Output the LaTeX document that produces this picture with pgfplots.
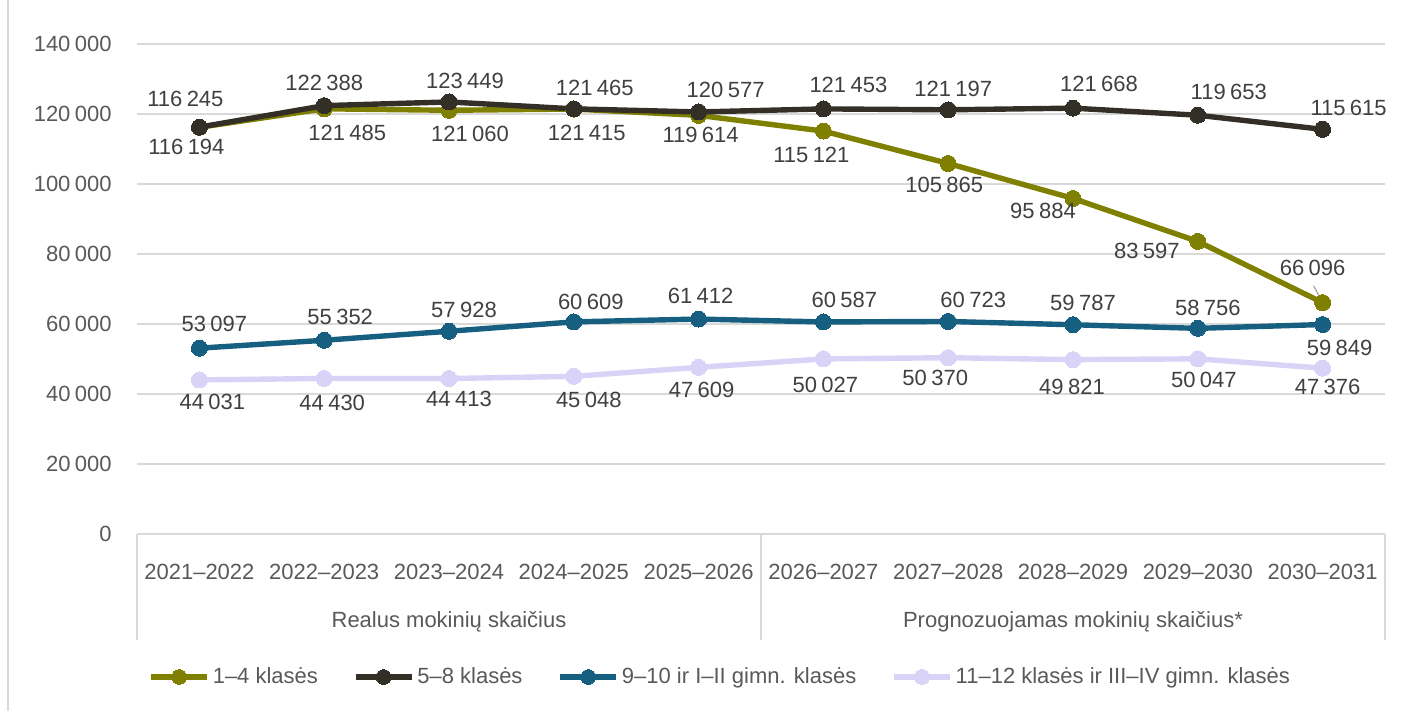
\documentclass[border=0pt]{standalone}
\usepackage{pgfplots}
\pgfplotsset{compat=1.18}
\usepackage{pgfplotstable}
\usepackage{fontspec}
\setmainfont{Liberation Sans}
\definecolor{olivec}{HTML}{7F7F00}
\definecolor{darkc}{HTML}{332F26}
\definecolor{bluec}{HTML}{175F80}
\definecolor{lavc}{HTML}{D9D3F8}
\definecolor{gridc}{HTML}{D9D9D9}
\definecolor{tickc}{HTML}{595959}
\definecolor{labc}{HTML}{404040}
\newcommand\lf{\fontsize{11bp}{13bp}\selectfont}
\newcommand\ts{\hspace{0.2em}}

% x = category index, y = value, dx/dy = label offset in px (dy positive = down)
\pgfplotstableread{
x y dx dy
0 116194 -13 20
1 121485 23 24
2 121060 21 24
3 121415 13 24
4 119614 2 20
5 115121 -12 24
6 105865 -4 21
7 95884 -30 13
8 83597 -51 10
9 66096 -10 -35
}\olive
\pgfplotstableread{
x y dx dy
0 116245 -14 -28
1 122388 0 -23
2 123449 16 -21
3 121465 21 -21
4 120577 27 -22
5 121453 25 -24
6 121197 5 -21
7 121668 26 -24
8 119653 31 -23
9 115615 26 -21
}\dark
\pgfplotstableread{
x y dx dy
0 53097 15 -24
1 55352 16 -23
2 57928 15 -21
3 60609 17 -20
4 61412 2 -23
5 60587 21 -22
6 60723 25 -22
7 59787 10 -22
8 58756 10 -20
9 59849 17 23
}\blue
\pgfplotstableread{
x y dx dy
0 44031 13 22
1 44430 8 24
2 44413 10 20
3 45048 15 24
4 47609 3 23
5 50027 2 26
6 50370 -13 20
7 49821 -1 27
8 50047 6 21
9 47376 5 19
}\lav

\pgfplotsset{
  lab/.style={
    draw=none, mark=none, forget plot,
    nodes near coords={\pgfmathprintnumber[fixed,precision=0,1000 sep={\ts},assume math mode=true]{\pgfplotspointmeta}},
    point meta=y,
    visualization depends on={\thisrow{dx}\as\dx},
    visualization depends on={\thisrow{dy}\as\dy},
    every node near coord/.append style={anchor=center, inner sep=0pt,
      xshift={(\dx)*0.5bp}, yshift={-(\dy)*0.5bp}, text=labc, font=\lf},
  },
  ser/.style={#1, line width=2.7bp, mark=*, mark size=4bp,
    mark options={solid, fill=#1, draw=#1, line width=0pt}},
}

\begin{document}
\begin{tikzpicture}
\begin{axis}[
  at={(0,0)}, anchor=south west,
  width=624bp, height=245bp, scale only axis,
  xmin=-0.5, xmax=9.5, ymin=0, ymax=140000,
  clip=false,
  scaled y ticks=false,
  axis line style={draw=none},
  tick style={draw=none},
  ymajorgrids, grid style={color=gridc, line width=1bp},
  ytick={0,20000,40000,60000,80000,100000,120000,140000},
  yticklabels={0,20\ts000,40\ts000,60\ts000,80\ts000,100\ts000,120\ts000,140\ts000},
  yticklabel style={font=\lf, text=tickc, anchor=east, inner sep=0pt, xshift=-12.5bp},
  xtick={0,...,9},
  xticklabels={2021–2022,2022–2023,2023–2024,2024–2025,2025–2026,2026–2027,2027–2028,2028–2029,2029–2030,2030–2031},
  xticklabel style={font=\lf, text=tickc, anchor=center, inner sep=0pt, yshift=-19bp},
  legend columns=-1,
  legend style={at={(axis description cs:0.0088,-0.2918)}, anchor=west,
    draw=none, fill=none, inner sep=0pt, font=\lf, text=tickc,
    nodes={inner sep=1.5bp},
    /tikz/every even column/.append style={column sep=16bp}},
  legend image code/.code={\draw[#1, mark size=3.7bp, mark repeat=2, mark phase=2] plot coordinates {(0bp,0bp) (14bp,0bp) (28bp,0bp)};},
]
\addplot[ser=olivec] table[x=x,y=y]{\olive};
\addlegendentry{1–4 klasės}
\addplot[ser=darkc] table[x=x,y=y]{\dark};
\addlegendentry{5–8 klasės}
\addplot[ser=bluec] table[x=x,y=y]{\blue};
\addlegendentry{9–10 ir I–II gimn. klasės}
\addplot[ser=lavc] table[x=x,y=y]{\lav};
\addlegendentry{11–12 klasės ir III–IV gimn. klasės}

\addplot[lab] table[x=x,y=y]{\olive};
\addplot[lab] table[x=x,y=y]{\dark};
\addplot[lab] table[x=x,y=y]{\blue};
\addplot[lab] table[x=x,y=y]{\lav};

\draw[color=gray!70, line width=0.6bp] ([xshift=-4.5bp,yshift=8.5bp]axis cs:9,66096) -- ([xshift=-0.8bp,yshift=1.5bp]axis cs:9,66096);

\draw[gridc, line width=1bp] (axis cs:-0.5,0) -- ++(0bp,-53bp);
\draw[gridc, line width=1bp] (axis cs:4.5,0) -- ++(0bp,-53bp);
\draw[gridc, line width=1bp] (axis cs:9.5,0) -- ++(0bp,-53bp);
\node[font=\lf, text=tickc, inner sep=0pt] at ([yshift=-44bp]axis cs:2,0) {Realus mokinių skaičius};
\node[font=\lf, text=tickc, inner sep=0pt] at ([yshift=-44bp]axis cs:7,0) {Prognozuojamas mokinių skaičius*};
\end{axis}
\draw[gridc, line width=1bp] (-64.5bp,-88.5bp) -- (-64.5bp,267bp);
\pgfresetboundingbox
\path (-68.5bp,-88.5bp) rectangle (634bp,267bp);
\end{tikzpicture}
\end{document}
